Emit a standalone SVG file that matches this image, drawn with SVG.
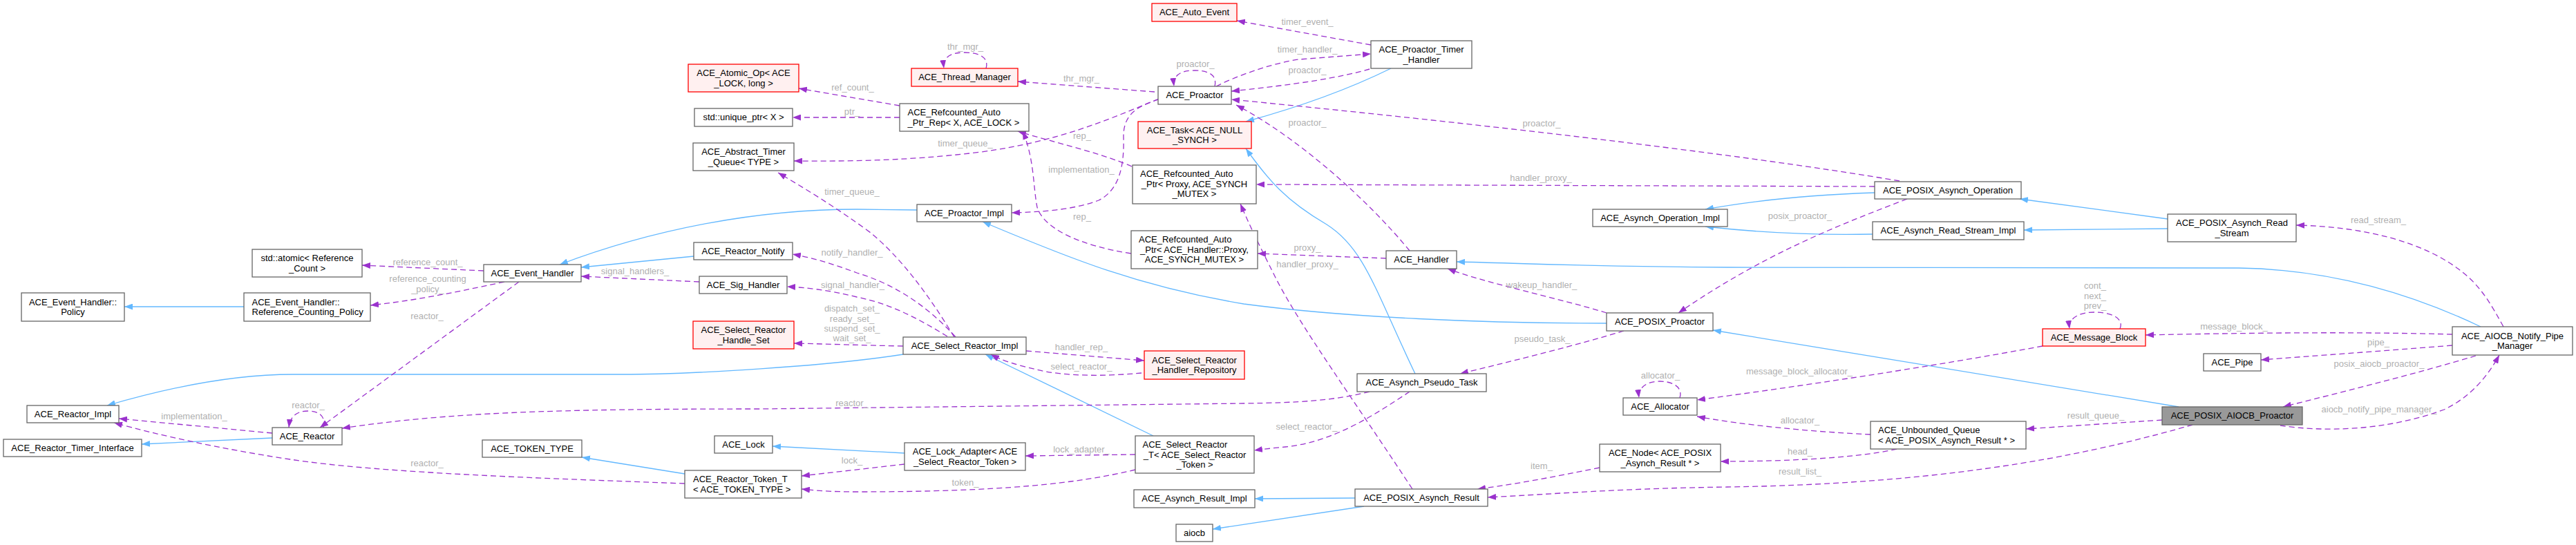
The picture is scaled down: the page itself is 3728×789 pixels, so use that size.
<svg xmlns="http://www.w3.org/2000/svg" width="3728" height="789" viewBox="0 0 3728 789">
<style>
.n rect{fill:#ffffff;stroke:#666666;stroke-width:1.3}
.r rect{fill:#fff0f0;stroke:#ff0000;stroke-width:1.3}
.h rect{fill:#999999;stroke:#666666;stroke-width:1.3}
text{font-family:"Liberation Sans",Arial,Helvetica,sans-serif;font-size:13px;fill:#000000}
.c{text-anchor:middle}
.lb{fill:#b0b0b0;text-anchor:middle}
.inh{fill:none;stroke:#63b8ff;stroke-width:1.3;marker-end:url(#ab)}
.use{fill:none;stroke:#9a32cd;stroke-width:1.3;stroke-dasharray:8,5;marker-end:url(#ap)}
</style>
<defs>
<marker id="ab" markerUnits="userSpaceOnUse" viewBox="0 0 12 9" markerWidth="12" markerHeight="9" refX="12" refY="4.5" orient="auto"><path d="M0,0 L12,4.5 L0,9 Z" fill="#63b8ff"/></marker>
<marker id="ap" markerUnits="userSpaceOnUse" viewBox="0 0 12 9" markerWidth="12" markerHeight="9" refX="12" refY="4.5" orient="auto"><path d="M0,0 L12,4.5 L0,9 Z" fill="#9a32cd"/></marker>
</defs>
<rect width="3728" height="789" fill="#ffffff"/>
<g id="edges">
<path class="inh" d="M353,444 L180,444"/>
<path class="inh" d="M394,634 L205,643"/>
<path class="inh" d="M1307,513 C1200,530 1000,542 900,542 L424,542 C330,542 230,565 155,587"/>
<path class="inh" d="M1004,371 L841,387"/>
<path class="inh" d="M1327,304 L1240,303 C1100,303 950,330 810,383"/>
<path class="inh" d="M1669,631 L1426,513"/>
<path class="inh" d="M991,686 L842,662"/>
<path class="inh" d="M1309,656 L1118,646"/>
<path class="inh" d="M2013,99 C1950,130 1880,155 1803,176"/>
<path class="inh" d="M2048,541 C1990,420 1975,360 1920,325 C1860,290 1835,260 1803,215"/>
<path class="inh" d="M2325,468 C2150,468 1950,460 1800,440 C1650,415 1550,375 1422,321"/>
<path class="inh" d="M1961,721 L1816,722"/>
<path class="inh" d="M1974,733 L1755,766"/>
<path class="inh" d="M2713,279 C2620,282 2540,290 2468,303"/>
<path class="inh" d="M2710,339 C2620,341 2540,336 2468,328"/>
<path class="inh" d="M3137,317 L2923,288"/>
<path class="inh" d="M3137,331 L2929,333"/>
<path class="inh" d="M3590,473 C3500,430 3380,390 3240,388 L2500,387 C2300,386 2200,381 2108,379"/>
<path class="inh" d="M3153,589 L2479,478"/>

<path class="use" d="M700,392 L524,384"/>
<text class="lb" x="619" y="383.5">reference_count_</text>
<path class="use" d="M730,408 C650,425 600,435 536,442"/>
<text class="lb" x="619" y="407.5">reference_counting</text>
<text class="lb" x="619" y="422.5">_policy_</text>
<path class="use" d="M751,408 L463,619"/>
<text class="lb" x="618" y="462">reactor_</text>
<path class="use" d="M394,627 L172,606"/>
<text class="lb" x="281" y="607">implementation_</text>
<path class="use" d="M468,619 C472,603 462,595 446,595 C430,595 420,602 418,619"/>
<text class="lb" x="446" y="591">reactor_</text>
<path class="use" d="M991,700 C800,693 550,685 420,665 C320,650 230,630 165,612"/>
<text class="lb" x="618" y="675">reactor_</text>
<path class="use" d="M1982,567 C1930,580 1880,583 1800,584 L1100,592 C800,592 650,597 495,620"/>
<text class="lb" x="1233" y="588">reactor_</text>
<path class="use" d="M1302,153 L1156,128"/>
<text class="lb" x="1234" y="130.5">ref_count_</text>
<path class="use" d="M1302,170 L1147,170"/>
<text class="lb" x="1233" y="166">ptr_</text>
<path class="use" d="M1677,143 C1600,175 1530,205 1420,220 C1300,235 1200,233 1149,233"/>
<text class="lb" x="1397" y="212">timer_queue_</text>
<path class="use" d="M1381,488 C1340,420 1300,370 1260,337 C1210,300 1160,270 1126,250"/>
<text class="lb" x="1233" y="282">timer_queue_</text>
<path class="use" d="M1383,488 C1340,440 1290,410 1240,395 C1200,380 1170,372 1147,368"/>
<text class="lb" x="1233" y="370">notify_handler_</text>
<path class="use" d="M1371,487 C1330,462 1290,440 1240,430 C1200,420 1165,416 1139,415"/>
<text class="lb" x="1234" y="417">signal_handler_</text>
<path class="use" d="M1307,501 C1250,500 1200,498 1149,497"/>
<text class="lb" x="1233" y="450.5">dispatch_set_</text>
<text class="lb" x="1233" y="465.5">ready_set_</text>
<text class="lb" x="1233" y="479.5">suspend_set_</text>
<text class="lb" x="1233" y="493.5">wait_set_</text>
<path class="use" d="M1012,408 L841,400"/>
<text class="lb" x="919" y="397">signal_handlers_</text>
<path class="use" d="M1485,508 L1656,522"/>
<text class="lb" x="1565" y="507">handler_rep_</text>
<path class="use" d="M1652,540 C1600,545 1540,545 1500,535 C1470,528 1450,522 1434,513"/>
<text class="lb" x="1565" y="535">select_reactor_</text>
<path class="use" d="M1643,658 L1484,660"/>
<text class="lb" x="1565" y="655">lock_adapter_</text>
<path class="use" d="M1309,672 L1160,689"/>
<text class="lb" x="1233" y="671">lock_</text>
<path class="use" d="M1643,680 C1560,700 1450,712 1240,712 C1200,712 1180,710 1160,708"/>
<text class="lb" x="1397" y="703">token_</text>
<path class="use" d="M2040,567 C1990,600 1930,640 1860,647 C1840,649 1830,650 1815,652"/>
<text class="lb" x="1891" y="622">select_reactor_</text>
<path class="use" d="M1671,133 L1473,118"/>
<text class="lb" x="1565" y="118">thr_mgr_</text>
<path class="use" d="M1427,99 C1432,82 1415,76 1396,76 C1377,76 1364,82 1366,99"/>
<text class="lb" x="1397" y="72">thr_mgr_</text>
<path class="use" d="M1758,125 C1762,108 1748,102 1729,102 C1710,102 1697,108 1699,125"/>
<text class="lb" x="1730" y="97">proactor_</text>
<path class="use" d="M1760,125 C1800,105 1850,90 1880,86 L1984,78"/>
<text class="lb" x="1892" y="76">timer_handler_</text>
<path class="use" d="M1984,65 L1790,30"/>
<text class="lb" x="1892" y="36">timer_event_</text>
<path class="use" d="M1982,100 C1940,112 1880,122 1782,132"/>
<text class="lb" x="1892" y="106">proactor_</text>
<path class="use" d="M2749,262 C2500,220 2100,175 1782,144"/>
<text class="lb" x="2231" y="183">proactor_</text>
<path class="use" d="M2040,363 C1980,290 1880,200 1789,152"/>
<text class="lb" x="1892" y="182">proactor_</text>
<path class="use" d="M1677,144 C1640,155 1625,170 1626,200 C1627,240 1620,275 1590,290 C1550,305 1500,307 1464,308"/>
<text class="lb" x="1565" y="250">implementation_</text>
<path class="use" d="M1638,241 C1590,220 1520,205 1473,190"/>
<text class="lb" x="1566" y="201">rep_</text>
<path class="use" d="M1637,367 C1560,355 1510,330 1501,300 C1495,270 1497,230 1480,190"/>
<text class="lb" x="1566" y="318">rep_</text>
<path class="use" d="M2713,270 L1818,267"/>
<text class="lb" x="2230" y="262">handler_proxy_</text>
<path class="use" d="M2044,708 C1960,580 1880,470 1845,400 C1825,360 1810,330 1795,295"/>
<text class="lb" x="1892" y="387">handler_proxy_</text>
<path class="use" d="M2006,374 L1820,367"/>
<text class="lb" x="1892" y="363">proxy_</text>
<path class="use" d="M2325,453 C2250,430 2150,410 2095,389"/>
<text class="lb" x="2231" y="417">wakeup_handler_</text>
<path class="use" d="M2350,479 C2280,500 2200,520 2113,541"/>
<text class="lb" x="2232" y="495">pseudo_task_</text>
<path class="use" d="M2760,288 C2650,330 2550,370 2429,453"/>
<text class="lb" x="2605" y="317">posix_proactor_</text>
<path class="use" d="M2431,576 C2436,560 2420,552 2402,552 C2385,552 2370,560 2372,576"/>
<text class="lb" x="2403" y="548">allocator_</text>
<path class="use" d="M2956,501 C2800,530 2600,560 2456,579"/>
<text class="lb" x="2604" y="542">message_block_allocator_</text>
<path class="use" d="M2707,629 C2620,625 2520,615 2456,603"/>
<text class="lb" x="2605" y="613">allocator_</text>
<path class="use" d="M2315,677 C2250,690 2200,700 2138,708"/>
<text class="lb" x="2231" y="679">item_</text>
<path class="use" d="M2745,650 C2680,665 2560,668 2490,668"/>
<text class="lb" x="2605" y="658">head_</text>
<path class="use" d="M3173,615 C3050,650 2850,700 2500,705 C2350,707 2250,715 2153,720"/>
<text class="lb" x="2605" y="687">result_list_</text>
<path class="use" d="M3129,608 L2932,621"/>
<text class="lb" x="3033" y="606">result_queue_</text>
<path class="use" d="M3068,476 C3075,458 3050,452 3031,452 C3010,452 2993,460 2995,476"/>
<text class="lb" x="3032" y="418">cont_</text>
<text class="lb" x="3032" y="433">next_</text>
<text class="lb" x="3032" y="447">prev_</text>
<path class="use" d="M3549,484 C3400,480 3250,482 3105,485"/>
<text class="lb" x="3233" y="477">message_block_</text>
<path class="use" d="M3549,500 C3450,508 3350,515 3272,521"/>
<text class="lb" x="3442" y="500">pipe_</text>
<path class="use" d="M3583,515 C3500,540 3400,565 3304,589"/>
<text class="lb" x="3443" y="531">posix_aiocb_proactor_</text>
<path class="use" d="M3300,616 C3360,625 3450,625 3537,593 C3575,575 3600,545 3617,514"/>
<text class="lb" x="3443" y="597">aiocb_notify_pipe_manager_</text>
<path class="use" d="M3623,473 C3605,440 3590,415 3565,395 C3510,350 3420,328 3323,326"/>
<text class="lb" x="3442" y="323">read_stream_</text>
</g>

<g id="std_atomic" class="n"><rect x="365" y="361" width="159" height="40"/><text class="c" x="444.5" y="378">std::atomic&lt; Reference</text><text class="c" x="444.5" y="392.5">_Count &gt;</text></g>
<g id="Policy" class="n"><rect x="31" y="424" width="149" height="41"/><text class="c" x="105.5" y="441.5">ACE_Event_Handler::</text><text class="c" x="105.5" y="456">Policy</text></g>
<g id="RefCountPolicy" class="n"><rect x="353" y="424" width="183" height="41"/><text x="364.5" y="441.5">ACE_Event_Handler::</text><text x="364.5" y="456">Reference_Counting_Policy</text></g>
<g id="Reactor_Impl" class="n"><rect x="39" y="587" width="133" height="25"/><text class="c" x="105.5" y="603.5">ACE_Reactor_Impl</text></g>
<g id="Reactor_Timer_Interface" class="n"><rect x="5" y="636" width="200" height="25"/><text class="c" x="105" y="652.5">ACE_Reactor_Timer_Interface</text></g>
<g id="ACE_Reactor" class="n"><rect x="394" y="619" width="101" height="25"/><text class="c" x="444.5" y="635.5">ACE_Reactor</text></g>
<g id="Atomic_Op" class="r"><rect x="996" y="93" width="160" height="40"/><text class="c" x="1076" y="110">ACE_Atomic_Op&lt; ACE</text><text class="c" x="1076" y="124.5">_LOCK, long &gt;</text></g>
<g id="unique_ptr" class="n"><rect x="1005" y="157" width="142" height="26"/><text class="c" x="1076" y="174">std::unique_ptr&lt; X &gt;</text></g>
<g id="Abstract_Timer_Queue" class="n"><rect x="1003" y="207" width="146" height="40"/><text class="c" x="1076" y="224">ACE_Abstract_Timer</text><text class="c" x="1076" y="238.5">_Queue&lt; TYPE &gt;</text></g>
<g id="Event_Handler" class="n"><rect x="700" y="383" width="141" height="25"/><text class="c" x="770.5" y="399.5">ACE_Event_Handler</text></g>
<g id="Reactor_Notify" class="n"><rect x="1004" y="351" width="143" height="25"/><text class="c" x="1075.5" y="367.5">ACE_Reactor_Notify</text></g>
<g id="Sig_Handler" class="n"><rect x="1012" y="400" width="127" height="25"/><text class="c" x="1075.5" y="416.5">ACE_Sig_Handler</text></g>
<g id="Handle_Set" class="r"><rect x="1003" y="465" width="146" height="40"/><text class="c" x="1076" y="482">ACE_Select_Reactor</text><text class="c" x="1076" y="496.5">_Handle_Set</text></g>
<g id="TOKEN_TYPE" class="n"><rect x="698" y="637" width="144" height="25"/><text class="c" x="770" y="653.5">ACE_TOKEN_TYPE</text></g>
<g id="ACE_Lock" class="n"><rect x="1034" y="631" width="84" height="25"/><text class="c" x="1076" y="647.5">ACE_Lock</text></g>
<g id="Reactor_Token_T" class="n"><rect x="991" y="681" width="169" height="40"/><text x="1003" y="698">ACE_Reactor_Token_T</text><text x="1003" y="712.5">&lt; ACE_TOKEN_TYPE &gt;</text></g>
<g id="Auto_Event" class="r"><rect x="1667" y="5" width="123" height="26"/><text class="c" x="1728.5" y="22">ACE_Auto_Event</text></g>
<g id="Thread_Manager" class="r"><rect x="1319" y="99" width="154" height="26"/><text class="c" x="1396" y="116">ACE_Thread_Manager</text></g>
<g id="ACE_Proactor" class="n"><rect x="1676" y="125" width="106" height="26"/><text class="c" x="1729" y="142">ACE_Proactor</text></g>
<g id="Refcounted_Rep" class="n"><rect x="1302" y="150" width="187" height="40"/><text x="1313.5" y="167">ACE_Refcounted_Auto</text><text x="1313.5" y="181.5">_Ptr_Rep&lt; X, ACE_LOCK &gt;</text></g>
<g id="Task" class="r"><rect x="1647" y="176" width="164" height="39"/><text class="c" x="1729" y="192.5">ACE_Task&lt; ACE_NULL</text><text class="c" x="1729" y="207">_SYNCH &gt;</text></g>
<g id="Proactor_Impl" class="n"><rect x="1327" y="296" width="137" height="25"/><text class="c" x="1395.5" y="312.5">ACE_Proactor_Impl</text></g>
<g id="Refcounted_Proxy" class="n"><rect x="1639" y="239" width="179" height="56"/><text x="1650" y="256">ACE_Refcounted_Auto</text><text class="c" x="1728.5" y="270.5">_Ptr&lt; Proxy, ACE_SYNCH</text><text class="c" x="1728.5" y="285">_MUTEX &gt;</text></g>
<g id="Refcounted_Handler_Proxy" class="n"><rect x="1637" y="334" width="183" height="55"/><text x="1648" y="351">ACE_Refcounted_Auto</text><text class="c" x="1728.5" y="365.5">_Ptr&lt; ACE_Handler::Proxy,</text><text class="c" x="1728.5" y="380">ACE_SYNCH_MUTEX &gt;</text></g>
<g id="Select_Reactor_Impl" class="n"><rect x="1307" y="488" width="178" height="25"/><text class="c" x="1396" y="504.5">ACE_Select_Reactor_Impl</text></g>
<g id="Handler_Repository" class="r"><rect x="1656" y="508" width="145" height="41"/><text class="c" x="1728.5" y="525.5">ACE_Select_Reactor</text><text class="c" x="1728.5" y="540">_Handler_Repository</text></g>
<g id="Lock_Adapter" class="n"><rect x="1309" y="641" width="175" height="40"/><text class="c" x="1396.5" y="658">ACE_Lock_Adapter&lt; ACE</text><text class="c" x="1396.5" y="672.5">_Select_Reactor_Token &gt;</text></g>
<g id="Select_Reactor_T" class="n"><rect x="1643" y="631" width="172" height="54"/><text x="1653.5" y="648">ACE_Select_Reactor</text><text class="c" x="1729" y="662.5">_T&lt; ACE_Select_Reactor</text><text class="c" x="1729" y="677">_Token &gt;</text></g>
<g id="Asynch_Result_Impl" class="n"><rect x="1641" y="709" width="175" height="26"/><text class="c" x="1728.5" y="726">ACE_Asynch_Result_Impl</text></g>
<g id="aiocb" class="n"><rect x="1702" y="759" width="53" height="25"/><text class="c" x="1728.5" y="775.5">aiocb</text></g>
<g id="Proactor_Timer_Handler" class="n"><rect x="1984" y="59" width="146" height="40"/><text class="c" x="2057" y="76">ACE_Proactor_Timer</text><text class="c" x="2057" y="90.5">_Handler</text></g>
<g id="Asynch_Operation_Impl" class="n"><rect x="2305" y="303" width="195" height="25"/><text class="c" x="2402.5" y="319.5">ACE_Asynch_Operation_Impl</text></g>
<g id="ACE_Handler" class="n"><rect x="2006" y="363" width="102" height="26"/><text class="c" x="2057" y="380">ACE_Handler</text></g>
<g id="POSIX_Proactor" class="n"><rect x="2325" y="453" width="154" height="26"/><text class="c" x="2402" y="470">ACE_POSIX_Proactor</text></g>
<g id="Asynch_Pseudo_Task" class="n"><rect x="1964" y="541" width="187" height="26"/><text class="c" x="2057.5" y="558">ACE_Asynch_Pseudo_Task</text></g>
<g id="Allocator" class="n"><rect x="2349" y="576" width="107" height="25"/><text class="c" x="2402.5" y="592.5">ACE_Allocator</text></g>
<g id="Node" class="n"><rect x="2315" y="643" width="175" height="40"/><text class="c" x="2402.5" y="660">ACE_Node&lt; ACE_POSIX</text><text class="c" x="2402.5" y="674.5">_Asynch_Result * &gt;</text></g>
<g id="POSIX_Asynch_Result" class="n"><rect x="1961" y="708" width="192" height="25"/><text class="c" x="2057" y="724.5">ACE_POSIX_Asynch_Result</text></g>
<g id="POSIX_Asynch_Operation" class="n"><rect x="2713" y="263" width="212" height="25"/><text class="c" x="2819" y="279.5">ACE_POSIX_Asynch_Operation</text></g>
<g id="Asynch_Read_Stream_Impl" class="n"><rect x="2710" y="321" width="219" height="26"/><text class="c" x="2819.5" y="338">ACE_Asynch_Read_Stream_Impl</text></g>
<g id="Message_Block" class="r"><rect x="2956" y="476" width="149" height="25"/><text class="c" x="3030.5" y="492.5">ACE_Message_Block</text></g>
<g id="Unbounded_Queue" class="n"><rect x="2707" y="610" width="225" height="40"/><text x="2718" y="627">ACE_Unbounded_Queue</text><text x="2718" y="641.5">&lt; ACE_POSIX_Asynch_Result * &gt;</text></g>
<g id="POSIX_Asynch_Read_Stream" class="n"><rect x="3137" y="310" width="186" height="40"/><text class="c" x="3230" y="327">ACE_POSIX_Asynch_Read</text><text class="c" x="3230" y="341.5">_Stream</text></g>
<g id="AIOCB_Notify_Pipe_Manager" class="n"><rect x="3549" y="473" width="174" height="41"/><text class="c" x="3636" y="490.5">ACE_AIOCB_Notify_Pipe</text><text class="c" x="3636" y="505">_Manager</text></g>
<g id="ACE_Pipe" class="n"><rect x="3189" y="512" width="83" height="25"/><text class="c" x="3230.5" y="528.5">ACE_Pipe</text></g>
<g id="POSIX_AIOCB_Proactor" class="h"><rect x="3129" y="589" width="203" height="26"/><text class="c" x="3230.5" y="606">ACE_POSIX_AIOCB_Proactor</text></g>
</svg>
